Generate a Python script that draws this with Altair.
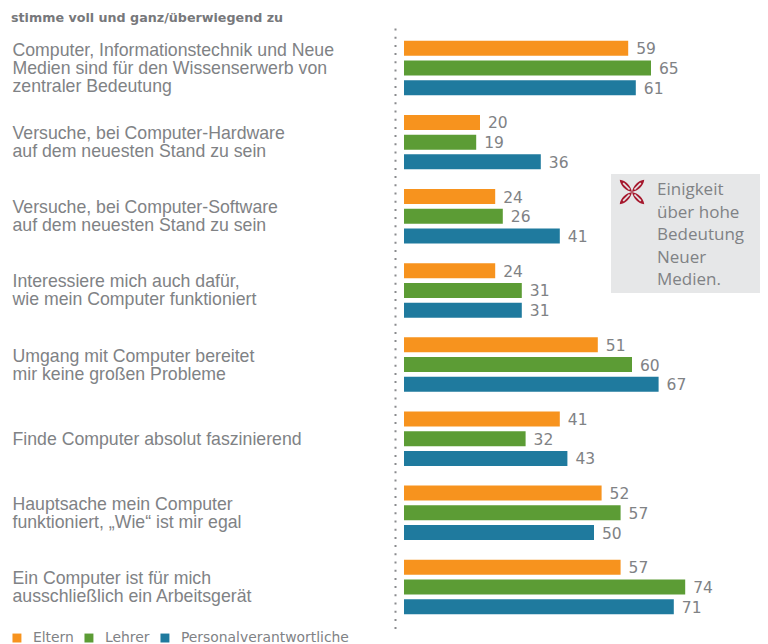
import altair as alt
import pandas as pd

categories = [
    "Computer, Informationstechnik und Neue\nMedien sind für den Wissenserwerb von\nzentraler Bedeutung",
    "Versuche, bei Computer-Hardware\nauf dem neuesten Stand zu sein",
    "Versuche, bei Computer-Software\nauf dem neuesten Stand zu sein",
    "Interessiere mich auch dafür,\nwie mein Computer funktioniert",
    "Umgang mit Computer bereitet\nmir keine großen Probleme",
    "Finde Computer absolut faszinierend",
    "Hauptsache mein Computer\nfunktioniert, „Wie“ ist mir egal",
    "Ein Computer ist für mich\nausschließlich ein Arbeitsgerät",
]
series = ["Eltern", "Lehrer", "Personalverantwortliche"]
colors = ["#f7931e", "#5c9c35", "#1f7a9e"]
eltern = [59, 20, 24, 24, 51, 41, 52, 57]
lehrer = [65, 19, 26, 31, 60, 32, 57, 74]
personal = [61, 36, 41, 31, 67, 43, 50, 71]
title_text = "stimme voll und ganz/überwiegend zu"
note_lines = ["Einigkeit", "über hohe", "Bedeutung", "Neuer", "Medien."]

rows = []
for s, vals in zip(series, [eltern, lehrer, personal]):
    for c, v in zip(categories, vals):
        rows.append({"cat": c, "series": s, "value": v})
df = pd.DataFrame(rows)

GRAY = "#808285"
PX = 3.8
W, H = 365, 602
x_scale = alt.Scale(domain=[-9 / PX, (W - 9) / PX], nice=False, zero=False)
y_scale = alt.Scale(domain=categories, paddingInner=0, paddingOuter=0.06, align=0.33)
off_scale = alt.Scale(domain=series, paddingInner=0.24, paddingOuter=0.5)

x = alt.X("value:Q", scale=x_scale, axis=None)
y = alt.Y(
    "cat:N",
    scale=y_scale,
    sort=None,
    title=None,
    axis=alt.Axis(
        ticks=False,
        grid=False,
        domain=True,
        domainColor="#8a8b8e",
        domainWidth=2,
        domainDash=[2, 6.2],
        labelAlign="left",
        labelBaseline="middle",
        labelPadding=383,
        labelFont="Liberation Sans",
        labelFontSize=17.7,
        labelLineHeight=18,
        labelColor=GRAY,
        labelLimit=400,
        labelExpr="split(datum.label, '\\n')",
        labelOffset=alt.expr("1 - 9 * (length(split(datum.label, '\\n')) - 1)"),
    ),
)
yoff = alt.YOffset("series:N", scale=off_scale, sort=series)

bars = alt.Chart(df).mark_bar().encode(
    x=x,
    x2=alt.datum(0),
    y=y,
    yOffset=yoff,
    color=alt.Color(
        "series:N",
        scale=alt.Scale(domain=series, range=colors),
        legend=alt.Legend(
            title=None,
            orient="none",
            direction="horizontal",
            legendX=-385,
            legendY=603,
            symbolType="square",
            symbolSize=80,
            symbolStrokeWidth=0,
            labelFont="DejaVu Sans",
            labelFontSize=13.9,
            labelLimit=300,
            labelColor=GRAY,
            labelOffset=9,
            columnPadding=8,
            symbolOpacity=1,
        ),
    ),
)
labels = alt.Chart(df).mark_text(
    align="left", baseline="middle", dx=8, dy=1, font="DejaVu Sans", fontSize=15.5, color=GRAY
).encode(x=x, y=y, yOffset=yoff, text="value:Q")

title = alt.Chart(pd.DataFrame({"t": [title_text]})).mark_text(
    align="left", baseline="middle", font="DejaVu Sans", fontWeight="bold", fontSize=12.7, color="#77787b"
).encode(x=alt.value(-384), y=alt.value(-10), text="t:N")

note_bg = alt.Chart(pd.DataFrame({"a": [1]})).mark_rect(color="#e6e7e8").encode(
    x=alt.value(216), x2=alt.value(365), y=alt.value(146), y2=alt.value(265)
)
note = [
    alt.Chart(pd.DataFrame({"t": [t]})).mark_text(
        align="left", baseline="middle", font="Open Sans", fontSize=17, color=GRAY
    ).encode(x=alt.value(262), y=alt.value(162 + 22.5 * i), text="t:N")
    for i, t in enumerate(note_lines)
]
leaf = (
    "M0,0 C-0.1,-0.5 -0.5,-0.95 -1,-1 C-0.95,-0.5 -0.5,-0.1 0,0 Z "
    "M0,0 C0.1,-0.5 0.5,-0.95 1,-1 C0.95,-0.5 0.5,-0.1 0,0 Z "
    "M0,0 C-0.1,0.5 -0.5,0.95 -1,1 C-0.95,0.5 -0.5,0.1 0,0 Z "
    "M0,0 C0.1,0.5 0.5,0.95 1,1 C0.95,0.5 0.5,0.1 0,0 Z"
)
veins = "M-0.72,-0.72 L-0.2,-0.2 M0.72,-0.72 L0.2,-0.2 M-0.72,0.72 L-0.2,0.2 M0.72,0.72 L0.2,0.2"
icon = alt.Chart(pd.DataFrame({"a": [1]})).mark_point(
    shape=leaf, filled=True, color="#a6192e", size=600, opacity=1
).encode(x=alt.value(237), y=alt.value(164))
icon_veins = alt.Chart(pd.DataFrame({"a": [1]})).mark_point(
    shape=veins, filled=False, color="#e6e7e8", size=600, opacity=1, strokeWidth=1.6
).encode(x=alt.value(237), y=alt.value(164))

chart = (
    alt.layer(bars, labels, title, note_bg, *note, icon, icon_veins)
    .properties(
        width=W,
        height=H,
        padding={"left": 387, "top": 20, "right": 0, "bottom": 14},
        autosize=alt.AutoSizeParams(type="none"),
    )
    .configure_view(stroke=None)
)
chart.save("out.html", embed_options={"renderer": "svg", "actions": False})
